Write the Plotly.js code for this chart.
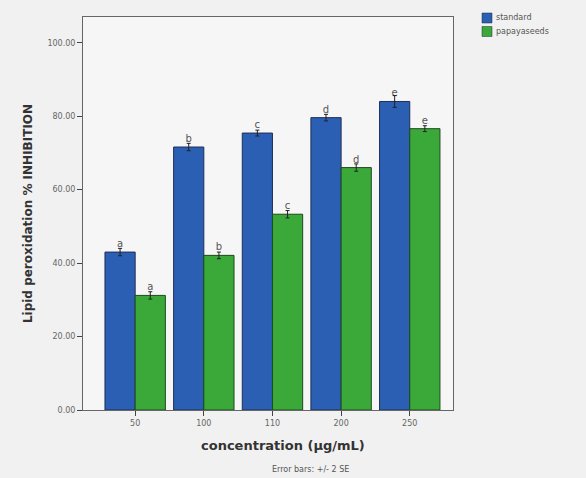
<!DOCTYPE html>
<html>
<head>
<meta charset="utf-8">
<script src="https://cdn.plot.ly/plotly-3.0.1.min.js"></script>
<style>html,body{margin:0;padding:0;background:#f1f1f1;}</style>
</head>
<body>
<div id="chart" style="width:586px;height:478px;"></div>
<script>
var categories = ["50", "100", "110", "200", "250"];
var seriesNames = ["standard", "papayaseeds"];
var seriesColors = ["#2b5fb3", "#3aa93a"];
var standardValues = [43.0, 71.6, 75.4, 79.6, 84.0];
var papayaValues = [31.2, 42.1, 53.3, 66.0, 76.6];
var standardErr = [1.0, 1.0, 0.8, 0.9, 1.6];
var papayaErr = [1.0, 0.9, 1.0, 1.0, 0.8];
var standardLetters = ["a", "b", "c", "d", "e"];
var papayaLetters = ["a", "b", "c", "d", "e"];
var yTicks = [0, 20, 40, 60, 80, 100];
var yTickLabels = ["0.00", "20.00", "40.00", "60.00", "80.00", "100.00"];

var traces = [
  {
    type: "bar", name: seriesNames[0], x: categories, y: standardValues,
    marker: {color: seriesColors[0], line: {color: "#1f2f55", width: 1}},
    error_y: {type: "data", array: standardErr, visible: true, color: "#222", thickness: 1, width: 2},
    text: standardLetters, textposition: "outside", cliponaxis: false,
    textfont: {family: "DejaVu Sans", size: 10, color: "#555"}
  },
  {
    type: "bar", name: seriesNames[1], x: categories, y: papayaValues,
    marker: {color: seriesColors[1], line: {color: "#1e4a1e", width: 1}},
    error_y: {type: "data", array: papayaErr, visible: true, color: "#222", thickness: 1, width: 2},
    text: papayaLetters, textposition: "outside", cliponaxis: false,
    textfont: {family: "DejaVu Sans", size: 10, color: "#555"}
  }
];

// custom compact legend (pixel geometry -> paper coords)
var plotL = 83, plotW = 370, plotT = 17, plotH = 393;
function px(x) { return (x - plotL) / plotW; }
function py(y) { return (plotT + plotH - y) / plotH; }
var shapes = [];
var annotations = [];
seriesNames.forEach(function (n, i) {
  var top = 13 + i * 13.5;
  shapes.push({type: "rect", xref: "paper", yref: "paper",
    x0: px(482), x1: px(492), y0: py(top + 10), y1: py(top),
    fillcolor: seriesColors[i], line: {color: "#1f2f40", width: 0.5}});
  annotations.push({text: n, xref: "paper", yref: "paper", x: px(494), y: py(top + 5),
    xanchor: "left", yanchor: "middle", showarrow: false,
    font: {size: 8, color: "#555"}});
});
annotations.push({text: "concentration (µg/mL)", xref: "paper", yref: "paper",
  x: px(283), y: py(445), xanchor: "center", yanchor: "middle", showarrow: false,
  font: {size: 13, color: "#333", family: "DejaVu Sans", weight: "bold"}});
annotations.push({text: "Error bars: +/- 2 SE", xref: "paper", yref: "paper",
  x: px(310), y: py(469), xanchor: "center", yanchor: "middle", showarrow: false,
  font: {size: 8, color: "#555"}});

var layout = {
  width: 586, height: 478,
  margin: {l: 83, r: 133, t: 17, b: 68},
  paper_bgcolor: "#f1f1f1",
  plot_bgcolor: "#f6f6f6",
  barmode: "group", bargap: 0.12, bargroupgap: 0,
  font: {family: "DejaVu Sans", color: "#555"},
  showlegend: false,
  xaxis: {
    type: "category", range: [-0.76, 4.63],
    showline: true, mirror: true, linecolor: "#666", linewidth: 1,
    ticks: "outside", ticklen: 5, tickcolor: "#444",
    tickfont: {size: 8, color: "#666"},
    showgrid: false, zeroline: false
  },
  yaxis: {
    range: [0, 107],
    tickvals: yTicks, ticktext: yTickLabels,
    showline: true, mirror: true, linecolor: "#666", linewidth: 1,
    ticks: "outside", ticklen: 5, tickcolor: "#444",
    tickfont: {size: 8, color: "#666"},
    showgrid: false, zeroline: false,
    title: {text: "Lipid peroxidation % INHIBITION", standoff: 12, font: {size: 12, color: "#333", family: "DejaVu Sans", weight: "bold"}}
  },
  shapes: shapes,
  annotations: annotations
};

Plotly.newPlot("chart", traces, layout, {displayModeBar: false, staticPlot: true});
</script>
</body>
</html>
